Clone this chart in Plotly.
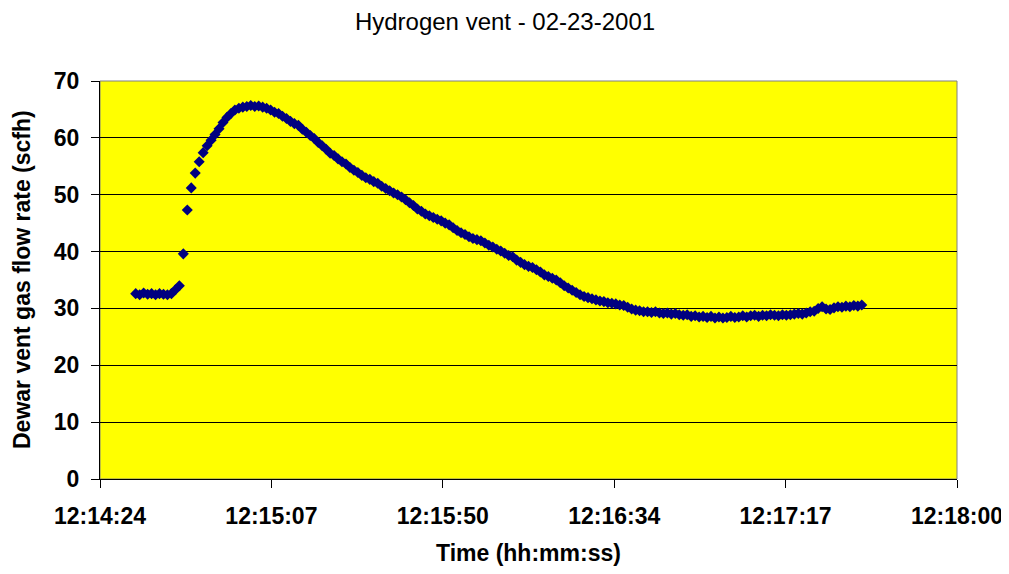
import plotly.graph_objects as go

# elapsed seconds since 12:14:24 (one reading per second)
elapsed_s = list(range(9, 193))

flow_scfh = [
    32.6, 32.4, 32.7, 32.5, 32.6, 32.4, 32.6, 32.5, 32.4, 32.6,   # 9-18
    33.3, 34.0, 39.6, 47.3, 51.2, 53.8, 55.8, 57.4, 58.6, 59.6,   # 19-28
    60.6, 61.6, 62.7, 63.6, 64.3, 64.9, 65.2, 65.4, 65.5, 65.7,   # 29-38
    65.5, 65.6, 65.4, 65.2, 64.9, 64.5, 64.3, 63.8, 63.4, 62.9,   # 39-48
    62.5, 62.2, 61.5, 61.0, 60.4, 59.9, 59.2, 58.6, 58.0, 57.3,   # 49-58
    56.9, 56.3, 55.8, 55.4, 54.8, 54.3, 53.9, 53.4, 53.0, 52.7,   # 59-68
    52.3, 52.0, 51.5, 51.1, 50.7, 50.3, 50.0, 49.6, 49.1, 48.6,   # 69-78
    48.1, 47.5, 47.1, 46.6, 46.3, 46.0, 45.7, 45.4, 45.0, 44.7,   # 79-88
    44.2, 43.7, 43.3, 43.0, 42.6, 42.3, 42.1, 41.9, 41.5, 41.1,   # 89-98
    40.8, 40.4, 40.1, 39.7, 39.3, 39.1, 38.5, 38.1, 37.7, 37.4,   # 99-108
    37.2, 36.8, 36.4, 35.9, 35.6, 35.3, 35.0, 34.5, 34.0, 33.6,   # 109-118
    33.2, 32.8, 32.4, 32.1, 31.9, 31.7, 31.5, 31.3, 31.2, 31.0,   # 119-128
    30.9, 30.8, 30.6, 30.5, 30.2, 29.9, 29.7, 29.6, 29.4, 29.4,   # 129-138
    29.3, 29.4, 29.2, 29.1, 29.2, 29.0, 29.1, 28.9, 28.8, 28.9,   # 139-148
    28.6, 28.7, 28.5, 28.6, 28.4, 28.6, 28.3, 28.5, 28.3, 28.4,   # 149-158
    28.6, 28.4, 28.5, 28.7, 28.5, 28.7, 28.8, 28.6, 28.8, 28.7,   # 159-168
    28.9, 28.8, 28.7, 28.9, 28.8, 28.9, 29.0, 29.1, 29.0, 29.2,   # 169-178
    29.4, 29.5, 30.0, 30.3, 29.9, 29.8, 30.1, 30.3, 30.2, 30.4,   # 179-188
    30.3, 30.5, 30.4, 30.6,                                       # 189-192
]

x_tick_vals = [0, 43.2, 86.4, 129.6, 172.8, 216]
x_tick_labels = ["12:14:24", "12:15:07", "12:15:50", "12:16:34", "12:17:17", "12:18:00"]
y_tick_vals = [0, 10, 20, 30, 40, 50, 60, 70]

FONT = "Liberation Sans, Arial, sans-serif"
W, H = 1009, 574
OFF = 8  # page body offset
L, R, T, B = 100 - OFF, 52 + OFF, 81 - OFF, 95 + OFF
PW, PH = W - L - R, H - T - B

fig = go.Figure()
fig.add_trace(go.Scatter(
    x=elapsed_s, y=flow_scfh, mode="markers",
    marker=dict(symbol="diamond", size=8.5, color="#000080", line=dict(width=0)),
    showlegend=False, hoverinfo="skip",
))

fig.update_layout(
    width=W, height=H,
    margin=dict(l=L, r=R, t=T, b=B, autoexpand=False),
    paper_bgcolor="white", plot_bgcolor="#FFFF00",
    font=dict(family=FONT, color="black"),
    title=dict(text="Hydrogen vent - 02-23-2001", x=(505 - OFF) / W, xref="container", xanchor="center",
               y=1 - (22 - OFF) / H, yref="container", yanchor="middle",
               font=dict(family=FONT, size=24, color="black")),
    xaxis=dict(range=[0, 216], tickvals=x_tick_vals, ticktext=x_tick_labels,
               showgrid=False, zeroline=False, showline=True, linecolor="black", linewidth=1,
               ticks="outside", ticklen=8, tickcolor="black", tickwidth=1,
               ticklabelstandoff=8,
               tickfont=dict(family=FONT, size=23, color="black", weight="bold")),
    yaxis=dict(range=[0, 70], tickvals=y_tick_vals,
               showgrid=True, gridcolor="black", gridwidth=1,
               zeroline=False, showline=True, linecolor="black", linewidth=1,
               ticks="outside", ticklen=8, tickcolor="black", tickwidth=1,
               ticklabelstandoff=7,
               tickfont=dict(family=FONT, size=23, color="black", weight="bold")),
    shapes=[dict(type="rect", xref="paper", yref="paper", x0=0, x1=1, y0=0, y1=1,
                 line=dict(color="#808080", width=1), fillcolor="rgba(0,0,0,0)", layer="below")],
    annotations=[
        dict(text="Dewar vent gas flow rate (scfh)", xref="paper", yref="paper",
             x=(22 - 100) / PW, y=0.5, textangle=-90, showarrow=False,
             xanchor="center", yanchor="middle",
             font=dict(family=FONT, size=23, color="black", weight="bold")),
        dict(text="Time (hh:mm:ss)", xref="paper", yref="paper",
             x=0.5, y=-(553 - 479) / PH, showarrow=False,
             xanchor="center", yanchor="middle",
             font=dict(family=FONT, size=23, color="black", weight="bold")),
    ],
)

fig.write_html("out.html")
